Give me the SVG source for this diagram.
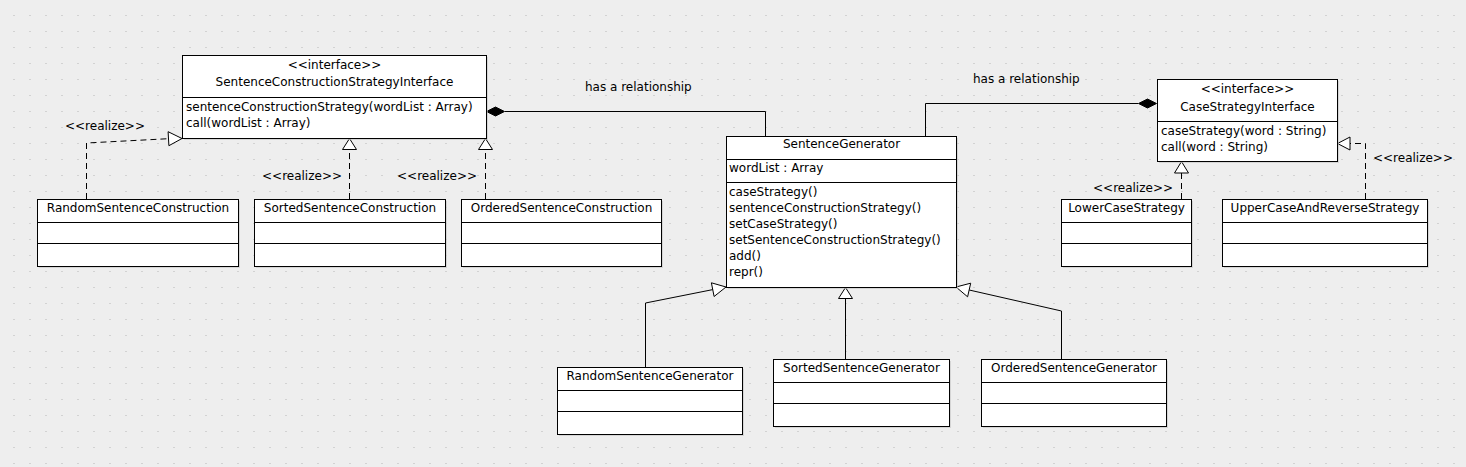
<svg xmlns="http://www.w3.org/2000/svg" width="1466" height="467" viewBox="0 0 1466 467">
<style>
text{font-family:"DejaVu Sans","Liberation Sans",sans-serif;font-size:12px;fill:#000}
.box{fill:#fff;stroke:#000;stroke-width:1}
.shadow{fill:#c4c4c4;opacity:0.6}
.div{stroke:#000;stroke-width:1}
.c{text-anchor:middle}
.e{text-anchor:end}
.dash{fill:none;stroke:#000;stroke-width:1;stroke-dasharray:6,4}
.solid{fill:none;stroke:#000;stroke-width:1}
.tri{fill:#fff;stroke:#000;stroke-width:1}
.dia{fill:#000;stroke:#000;stroke-width:1}
</style>
<defs>
<pattern id="grid" patternUnits="userSpaceOnUse" width="16" height="16">
<rect x="13" y="15" width="2" height="2" fill="#d2d2d2"/>
</pattern>
</defs>
<rect width="1466" height="467" fill="#eeeeee"/>
<rect width="1466" height="467" fill="url(#grid)"/>

<g id="connectors">
<path class="dash" d="M86.5,199 V143 L168.5,138.7"/>
<polygon class="tri" points="182,138.5 168.9,145.7 168.1,131.7"/>
<text x="65" y="130">&lt;&lt;realize&gt;&gt;</text>
<path class="dash" d="M349.5,199 V149.5"/>
<polygon class="tri" points="349.5,138.5 342.5,149.5 356.5,149.5"/>
<text class="e" x="342" y="180">&lt;&lt;realize&gt;&gt;</text>
<path class="dash" d="M485.5,199 V149.5"/>
<polygon class="tri" points="485.5,138.5 478.5,149.5 492.5,149.5"/>
<text class="e" x="477" y="180">&lt;&lt;realize&gt;&gt;</text>
<path class="solid" d="M765.5,136 V111.5 H505"/>
<polygon class="dia" points="486.5,111.5 495.5,107 504.5,111.5 495.5,116"/>
<text x="585" y="91">has a relationship</text>
<path class="solid" d="M925.5,136 V103.5 H1138"/>
<polygon class="dia" points="1138.5,103.5 1147.5,99 1156.5,103.5 1147.5,108"/>
<text x="973" y="83">has a relationship</text>
<path class="dash" d="M1181.5,199 V173"/>
<polygon class="tri" points="1181.5,161.5 1174.5,173 1188.5,173"/>
<text class="e" x="1173" y="192">&lt;&lt;realize&gt;&gt;</text>
<path class="dash" d="M1365.5,199 V143.5 H1350"/>
<polygon class="tri" points="1337.5,143.5 1350,137 1350,150"/>
<text x="1373" y="162">&lt;&lt;realize&gt;&gt;</text>
<path class="solid" d="M645.5,367 V303 L712.8,289.6"/>
<polygon class="tri" points="726,287 714.1,296.5 711.4,282.8"/>
<path class="solid" d="M845.5,359 V298.5"/>
<polygon class="tri" points="845.5,287.5 838.5,298.5 852.5,298.5"/>
<path class="solid" d="M1061.5,359 V311 L969.2,290"/>
<polygon class="tri" points="956,287 970.7,283.2 967.6,296.8"/>
</g>

<g id="SentenceConstructionStrategyInterface">
<rect class="shadow" x="184" y="57" width="304" height="83"/>
<rect class="box" x="182.5" y="55.5" width="304" height="83"/>
<line class="div" x1="182.5" y1="97.5" x2="486.5" y2="97.5"/>
<text class="c" x="334.5" y="69">&lt;&lt;interface&gt;&gt;</text>
<text class="c" x="334.5" y="86">SentenceConstructionStrategyInterface</text>
<text x="186" y="111">sentenceConstructionStrategy(wordList : Array)</text>
<text x="186" y="127">call(wordList : Array)</text>
</g>

<g id="RandomSentenceConstruction">
<rect class="shadow" x="39" y="201" width="201" height="67"/>
<rect class="box" x="37.5" y="199.5" width="201" height="67"/>
<line class="div" x1="37.5" y1="222.5" x2="238.5" y2="222.5"/>
<line class="div" x1="37.5" y1="243.5" x2="238.5" y2="243.5"/>
<text class="c" x="138" y="212">RandomSentenceConstruction</text>
</g>

<g id="SortedSentenceConstruction">
<rect class="shadow" x="256" y="201" width="191" height="67"/>
<rect class="box" x="254.5" y="199.5" width="191" height="67"/>
<line class="div" x1="254.5" y1="222.5" x2="445.5" y2="222.5"/>
<line class="div" x1="254.5" y1="243.5" x2="445.5" y2="243.5"/>
<text class="c" x="350" y="212">SortedSentenceConstruction</text>
</g>

<g id="OrderedSentenceConstruction">
<rect class="shadow" x="463" y="201" width="200" height="67"/>
<rect class="box" x="461.5" y="199.5" width="200" height="67"/>
<line class="div" x1="461.5" y1="222.5" x2="661.5" y2="222.5"/>
<line class="div" x1="461.5" y1="243.5" x2="661.5" y2="243.5"/>
<text class="c" x="561.5" y="212">OrderedSentenceConstruction</text>
</g>

<g id="SentenceGenerator">
<rect class="shadow" x="728" y="138" width="230" height="151"/>
<rect class="box" x="726.5" y="136.5" width="230" height="151"/>
<line class="div" x1="726.5" y1="159.5" x2="956.5" y2="159.5"/>
<line class="div" x1="726.5" y1="182.5" x2="956.5" y2="182.5"/>
<text class="c" x="841.5" y="148">SentenceGenerator</text>
<text x="729" y="172">wordList : Array</text>
<text x="729" y="196">caseStrategy()</text>
<text x="729" y="212">sentenceConstructionStrategy()</text>
<text x="729" y="228">setCaseStrategy()</text>
<text x="729" y="244">setSentenceConstructionStrategy()</text>
<text x="729" y="260">add()</text>
<text x="729" y="276">repr()</text>
</g>

<g id="CaseStrategyInterface">
<rect class="shadow" x="1159" y="81" width="180" height="82"/>
<rect class="box" x="1157.5" y="79.5" width="180" height="82"/>
<line class="div" x1="1157.5" y1="121.5" x2="1337.5" y2="121.5"/>
<text class="c" x="1247.5" y="93">&lt;&lt;interface&gt;&gt;</text>
<text class="c" x="1247.5" y="111">CaseStrategyInterface</text>
<text x="1161" y="135">caseStrategy(word : String)</text>
<text x="1161" y="151">call(word : String)</text>
</g>

<g id="LowerCaseStrategy">
<rect class="shadow" x="1063" y="201" width="130" height="67"/>
<rect class="box" x="1061.5" y="199.5" width="130" height="67"/>
<line class="div" x1="1061.5" y1="222.5" x2="1191.5" y2="222.5"/>
<line class="div" x1="1061.5" y1="243.5" x2="1191.5" y2="243.5"/>
<text class="c" x="1126.5" y="212">LowerCaseStrategy</text>
</g>

<g id="UpperCaseAndReverseStrategy">
<rect class="shadow" x="1224" y="201" width="205" height="67"/>
<rect class="box" x="1222.5" y="199.5" width="205" height="67"/>
<line class="div" x1="1222.5" y1="222.5" x2="1427.5" y2="222.5"/>
<line class="div" x1="1222.5" y1="243.5" x2="1427.5" y2="243.5"/>
<text class="c" x="1325" y="212">UpperCaseAndReverseStrategy</text>
</g>

<g id="RandomSentenceGenerator">
<rect class="shadow" x="559" y="369" width="185" height="67"/>
<rect class="box" x="557.5" y="367.5" width="185" height="67"/>
<line class="div" x1="557.5" y1="390.5" x2="742.5" y2="390.5"/>
<line class="div" x1="557.5" y1="411.5" x2="742.5" y2="411.5"/>
<text class="c" x="650" y="380">RandomSentenceGenerator</text>
</g>

<g id="SortedSentenceGenerator">
<rect class="shadow" x="775" y="361" width="176" height="67"/>
<rect class="box" x="773.5" y="359.5" width="176" height="67"/>
<line class="div" x1="773.5" y1="382.5" x2="949.5" y2="382.5"/>
<line class="div" x1="773.5" y1="403.5" x2="949.5" y2="403.5"/>
<text class="c" x="861.5" y="372">SortedSentenceGenerator</text>
</g>

<g id="OrderedSentenceGenerator">
<rect class="shadow" x="983" y="361" width="185" height="67"/>
<rect class="box" x="981.5" y="359.5" width="185" height="67"/>
<line class="div" x1="981.5" y1="382.5" x2="1166.5" y2="382.5"/>
<line class="div" x1="981.5" y1="403.5" x2="1166.5" y2="403.5"/>
<text class="c" x="1074" y="372">OrderedSentenceGenerator</text>
</g>
</svg>
